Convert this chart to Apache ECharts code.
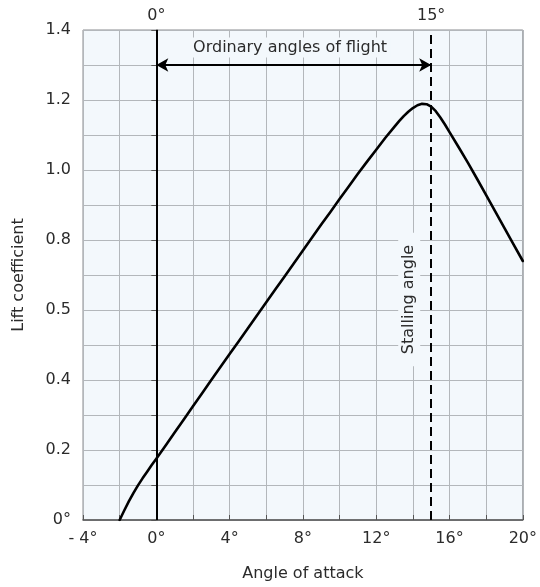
<!DOCTYPE html>
<html>
<head>
<meta charset="utf-8">
<script src="https://cdn.jsdelivr.net/npm/echarts@6/dist/echarts.min.js"></script>
<style>
html,body{margin:0;padding:0;background:#fff;}
#c{width:540px;height:587px;}
</style>
</head>
<body>
<div id="c"></div>
<script>
// Curve data (angle of attack in degrees, lift coefficient)
const angleDeg = [-2, -1.75, -1.5, -1.25, -1, -0.75, -0.5, -0.25, 0, 0.5, 1, 1.5, 2, 2.5, 3, 3.5, 4, 4.5, 5, 5.5, 6, 6.5, 7, 7.5, 8, 8.5, 9, 9.5, 10, 10.5, 11, 11.5, 12, 12.5, 13, 13.25, 13.5, 13.75, 14, 14.25, 14.5, 14.75, 15, 15.25, 15.5, 15.75, 16, 16.5, 17, 17.5, 18, 18.5, 19, 19.5, 20];
const liftCoef = [0, 0.027, 0.053, 0.077, 0.099, 0.119, 0.138, 0.157, 0.175, 0.212, 0.25, 0.287, 0.325, 0.362, 0.40, 0.437, 0.474, 0.511, 0.548, 0.585, 0.622, 0.659, 0.696, 0.733, 0.770, 0.807, 0.844, 0.880, 0.917, 0.953, 0.989, 1.024, 1.058, 1.092, 1.124, 1.1395, 1.154, 1.1665, 1.177, 1.185, 1.189, 1.188, 1.181, 1.168, 1.150, 1.130, 1.108, 1.065, 1.021, 0.975, 0.928, 0.881, 0.834, 0.787, 0.740];

// Tick labels
const xTicks = [-4, 0, 4, 8, 12, 16, 20];
const xTickText = ['- 4°', '0°', '4°', '8°', '12°', '16°', '20°'];
const yTicks = [0, 0.2, 0.4, 0.6, 0.8, 1.0, 1.2, 1.4];
const yTickText = ['0°', '0.2', '0.4', '0.5', '0.8', '1.0', '1.2', '1.4'];
const topTicks = [0, 15];
const topTickText = ['0°', '15°'];

// Annotations
const zeroAngle = 0;
const stallAngle = 15;
const flightRangeLevel = 1.3;
const flightLabel = 'Ordinary angles of flight';
const flightLabelAt = [7.3, 1.35];
const stallLabel = 'Stalling angle';
const stallLabelAt = [13.8, 0.63];

const FONT = 'DejaVu Sans';
const TXT = '#2b2b2b';
const PLOT_BG = '#f3f8fc';

function pick(ticks, texts, v) {
  for (let i = 0; i < ticks.length; i++) {
    if (Math.abs(ticks[i] - v) < 1e-6) return texts[i];
  }
  return '';
}

const chart = echarts.init(document.getElementById('c'), null, {renderer: 'canvas'});
const curve = angleDeg.map((a, i) => [a, liftCoef[i]]);

const option = {
  animation: false,
  backgroundColor: '#ffffff',
  grid: {
    left: 83, right: 13, top: 30, bottom: 65,
    show: true, backgroundColor: PLOT_BG, borderColor: '#8a8d90', borderWidth: 1
  },
  xAxis: [{
    type: 'value', min: -4, max: 20, interval: 2, position: 'bottom',
    name: 'Angle of attack', nameLocation: 'middle', nameGap: 46,
    nameTextStyle: {fontFamily: FONT, fontSize: 16, color: TXT},
    axisLine: {show: true, lineStyle: {color: '#555', width: 1.5}},
    axisTick: {show: true, inside: true, length: 5, lineStyle: {color: '#555'}},
    axisLabel: {fontFamily: FONT, fontSize: 16, color: TXT, margin: 11,
      formatter: v => pick(xTicks, xTickText, v)},
    splitLine: {show: true, lineStyle: {color: '#b3b7bb', width: 1}}
  }, {
    type: 'value', min: -4, max: 20, interval: 1, position: 'top',
    axisLine: {show: false}, axisTick: {show: false},
    axisLabel: {fontFamily: FONT, fontSize: 16, color: TXT, margin: 6,
      formatter: v => pick(topTicks, topTickText, v)},
    splitLine: {show: false}
  }],
  yAxis: {
    type: 'value', min: 0, max: 1.4, interval: 0.1,
    name: 'Lift coefficient', nameLocation: 'middle', nameGap: 56, nameRotate: 90,
    nameTextStyle: {fontFamily: FONT, fontSize: 16, color: TXT},
    axisLine: {show: true, lineStyle: {color: '#555', width: 1.5}},
    axisTick: {show: true, inside: false, length: 5, lineStyle: {color: '#555'}},
    axisLabel: {fontFamily: FONT, fontSize: 16, color: TXT, margin: 12,
      formatter: v => pick(yTicks, yTickText, v)},
    splitLine: {show: true, lineStyle: {color: '#b3b7bb', width: 1}}
  },
  series: [{
    type: 'line', data: curve, smooth: false, showSymbol: false, symbol: 'none',
    lineStyle: {color: '#000', width: 2.6, join: 'round', cap: 'round'}, z: 5,
    markLine: {
      silent: true, symbol: ['none', 'none'], animation: false,
      label: {show: false},
      data: [
        [{coord: [zeroAngle, 0], lineStyle: {color: '#000', width: 2, type: 'solid'}},
         {coord: [zeroAngle, 1.4]}],
        [{coord: [stallAngle, 0], lineStyle: {color: '#000', width: 2, type: [9, 5]}},
         {coord: [stallAngle, 1.4]}],
        [{coord: [zeroAngle, flightRangeLevel], symbol: 'arrow', symbolSize: [10, 12],
          lineStyle: {color: '#000', width: 2, type: 'solid'}},
         {coord: [stallAngle, flightRangeLevel], symbol: 'arrow', symbolSize: [10, 12]}]
      ]
    }
  }]
};
chart.setOption(option);

const p1 = chart.convertToPixel({gridIndex: 0}, flightLabelAt);
const p2 = chart.convertToPixel({gridIndex: 0}, stallLabelAt);
chart.setOption({
  graphic: [{
    type: 'text', x: p1[0], y: p1[1], z: 3,
    style: {text: flightLabel, fontFamily: FONT, fontSize: 16, fill: TXT,
      align: 'center', verticalAlign: 'middle',
      backgroundColor: PLOT_BG, padding: [2, 3]}
  }, {
    type: 'text', x: p2[0], y: p2[1], rotation: Math.PI / 2, z: 3,
    style: {text: stallLabel, fontFamily: FONT, fontSize: 16, fill: TXT,
      align: 'center', verticalAlign: 'middle',
      backgroundColor: PLOT_BG, padding: [3, 12]}
  }]
});
</script>
</body>
</html>
